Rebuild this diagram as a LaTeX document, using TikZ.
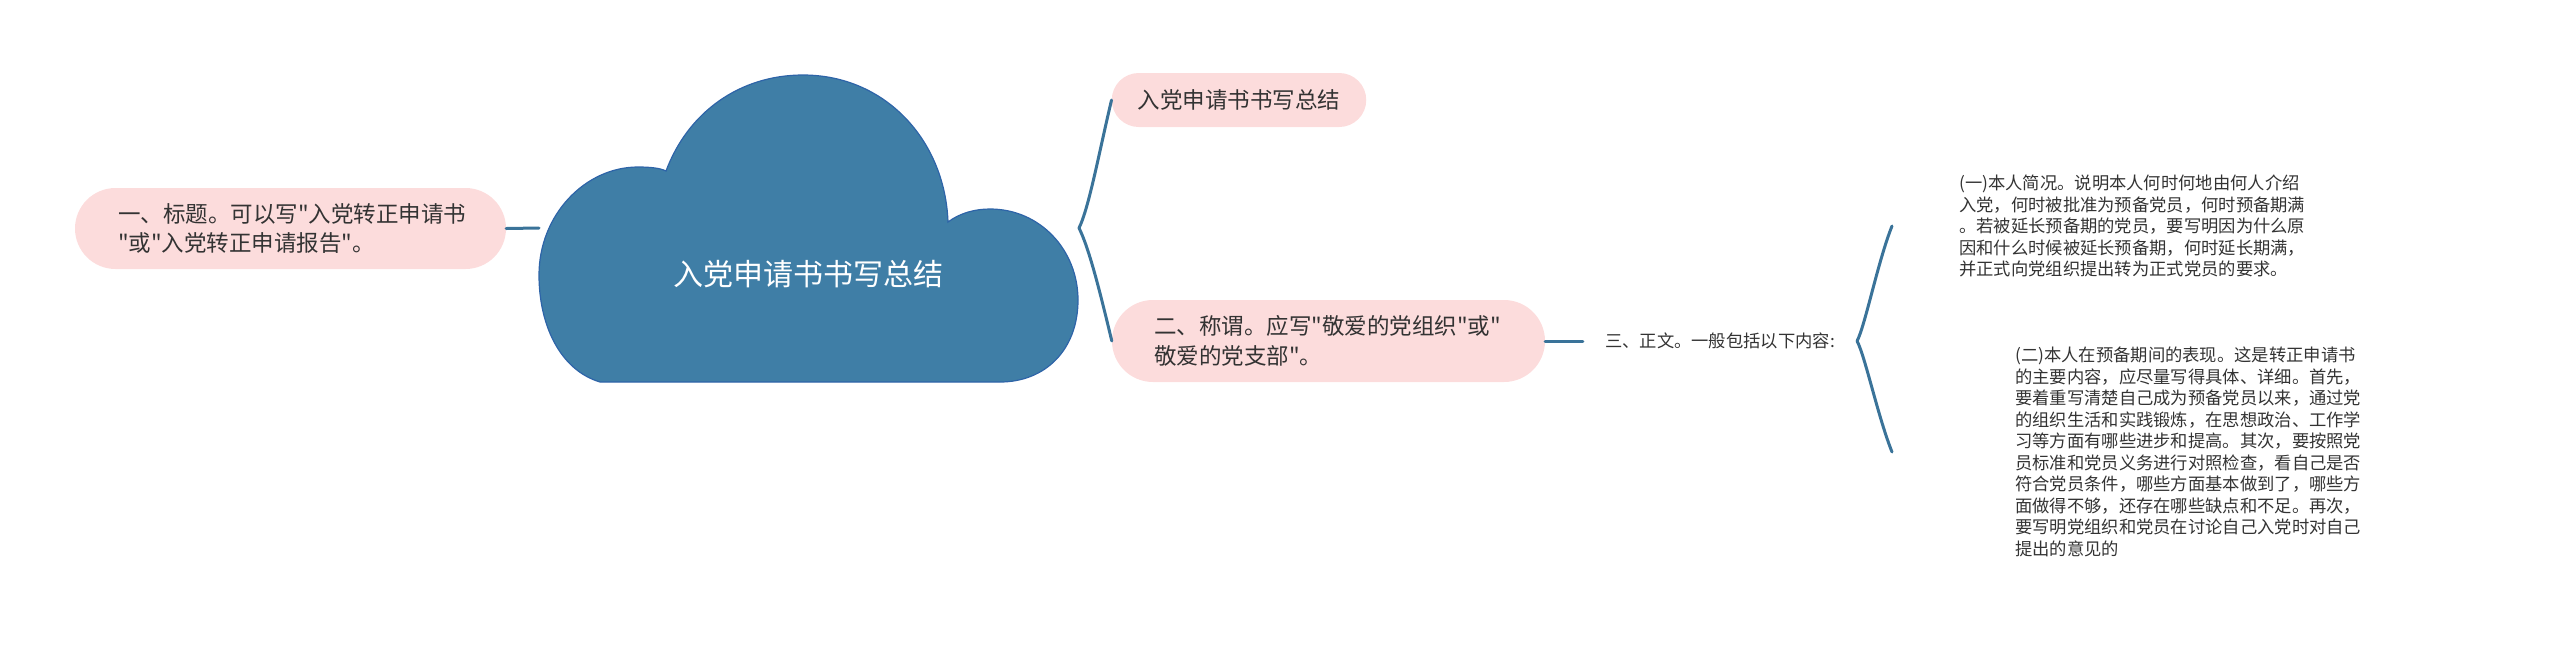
\documentclass[tikz,border=0pt]{standalone}
\usepackage{fontspec}
\newfontfamily\cjk{Noto Sans CJK SC}
\definecolor{cloudfill}{HTML}{3F7EA6}
\definecolor{cloudline}{HTML}{2E64A8}
\definecolor{linkc}{HTML}{3A7399}
\definecolor{pinkfill}{HTML}{FCDCDC}
\definecolor{txt}{HTML}{333333}
\tikzset{
  link/.style={draw=linkc, line width=3pt, line cap=round},
  cloudshape/.style={fill=cloudfill, draw=cloudline, line width=1.2pt},
  roottext/.style={text=white, font=\cjk\fontsize{30}{36}\selectfont, inner sep=0pt},
  pill/.style={fill=pinkfill, text=txt, font=\cjk\fontsize{22.5}{29.5}\selectfont, align=left, inner ysep=0pt},
  smalltext/.style={text=txt, font=\cjk\fontsize{17.3}{21.5}\selectfont, align=left, inner ysep=0pt}
}
\begin{document}
\begin{tikzpicture}[x=1pt,y=-1pt]
\useasboundingbox (0,0) rectangle (2560,649);
% cloud
\draw[cloudshape] (600,382)
  .. controls (560,370) and (539,325) .. (539,275)
  .. controls (539,215) and (585,167) .. (638,167)
  .. controls (650,167) and (660,168) .. (666,171)
  .. controls (688,112) and (740,75) .. (803,75)
  .. controls (885,75) and (945,140) .. (948,222)
  .. controls (960,213) and (975,209) .. (990,209)
  .. controls (1040,209) and (1078,250) .. (1078,300)
  .. controls (1078,350) and (1045,382) .. (1000,382)
  -- cycle;
\node[roottext] (root) at (808,274) {入党申请书书写总结};
\coordinate (rootL) at (539,228);
\coordinate (rootR) at (1079,228);
% left node
\node[pill, minimum width=431pt, minimum height=81pt, rounded corners=40.5pt, text width=345pt, inner xsep=43pt] (n1) at (290.5,228.5)
  {一、标题。可以写"入党转正申请书\\"或"入党转正申请报告"。};
% right nodes
\node[pill, minimum width=254pt, minimum height=54pt, rounded corners=27pt, inner xsep=26pt] (ntop) at (1239,100)
  {入党申请书书写总结};
\node[pill, minimum width=433pt, minimum height=82pt, rounded corners=41pt, text width=349pt, inner xsep=42pt] (n2) at (1328.5,341)
  {二、称谓。应写"敬爱的党组织"或"\\敬爱的党支部"。};
\node[smalltext, inner xsep=22pt] (t3) at (1720,341) {三、正文。一般包括以下内容:};
\node[smalltext, anchor=west, inner xsep=67pt] (c1) at (1892,226)
  {(一)本人简况。说明本人何时何地由何人介绍\\入党，何时被批准为预备党员，何时预备期满\\。若被延长预备期的党员，要写明因为什么原\\因和什么时候被延长预备期，何时延长期满，\\并正式向党组织提出转为正式党员的要求。};
\node[smalltext, anchor=west, inner xsep=123pt] (c2) at (1892,452)
  {(二)本人在预备期间的表现。这是转正申请书\\的主要内容，应尽量写得具体、详细。首先，\\要着重写清楚自己成为预备党员以来，通过党\\的组织生活和实践锻炼，在思想政治、工作学\\习等方面有哪些进步和提高。其次，要按照党\\员标准和党员义务进行对照检查，看自己是否\\符合党员条件，哪些方面基本做到了，哪些方\\面做得不够，还存在哪些缺点和不足。再次，\\要写明党组织和党员在讨论自己入党时对自己\\提出的意见的};
% connectors
\draw[link] (n1.east) -- (rootL);
\draw[link] (rootR) .. controls +(10,-20) and +(-12,50) .. (ntop.west);
\draw[link] (rootR) .. controls +(10,20) and +(-12,-50) .. (n2.west);
\draw[link] (n2.east) -- (t3.west);
\draw[link] (t3.east) .. controls +(8,-15) and +(-14,35) .. (c1.west);
\draw[link] (t3.east) .. controls +(8,15) and +(-14,-35) .. (c2.west);
\end{tikzpicture}
\end{document}
